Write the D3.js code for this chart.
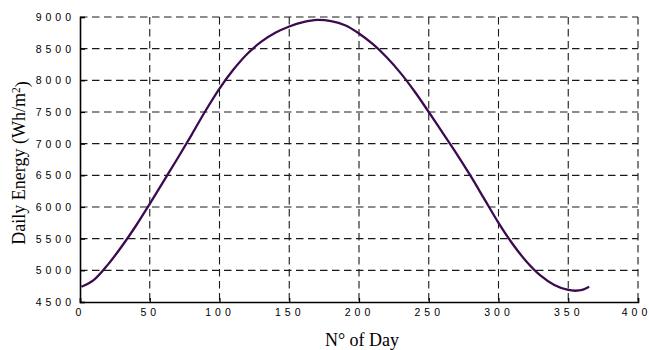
<!DOCTYPE html>
<html>
<head>
<meta charset="utf-8">
<script src="https://cdn.jsdelivr.net/npm/d3@7"></script>
<style>
  html, body { margin: 0; padding: 0; background: #fff; }
  svg { display: block; }
  .tick-label { font-family: "Liberation Sans", Arial, sans-serif; font-size: 10.5px; fill: #000; }
  .axis-title { font-family: "Liberation Serif", "Times New Roman", serif; font-size: 18px; fill: #000; }
</style>
</head>
<body>
<svg id="chart" width="649" height="350"></svg>
<script>
// Day of year and daily solar energy on a horizontal surface (Wh/m²)
const days = [1, 10, 20, 30, 40, 50, 60, 70, 80, 90, 100, 110, 120, 130, 140, 150, 160, 170,
              180, 190, 200, 210, 220, 230, 240, 250, 260, 270, 280, 290, 300, 310, 320, 330,
              340, 350, 355, 360, 365];
const energy = [4740, 4850, 5090, 5380, 5700, 6050, 6410, 6770, 7140, 7520, 7870, 8170, 8420, 8610, 8750, 8850, 8920, 8955,
                8935, 8870, 8740, 8570, 8360, 8110, 7820, 7500, 7170, 6840, 6490, 6120, 5750, 5420, 5140, 4920,
                4770, 4690, 4678, 4690, 4740];

const xTicks = [0, 50, 100, 150, 200, 250, 300, 350, 400];
const yTicks = [4500, 5000, 5500, 6000, 6500, 7000, 7500, 8000, 8500, 9000];

const xTitle = "N° of Day";

const svg = d3.select("#chart");
const plotLeft = 80, plotRight = 638, plotTop = 17, plotBottom = 302;

const x = d3.scaleLinear().domain([0, 400]).range([plotLeft, plotRight]);
const y = d3.scaleLinear().domain([4500, 9000]).range([plotBottom, plotTop]);

// spaced-out digits: a per-glyph dx list (no trailing gap after the last digit)
const gap = 4;
const spaced = (label, lead) => [lead].concat(d3.range(label.length - 1).map(() => gap)).join(" ");

// dashed grid
const grid = svg.append("g").attr("stroke", "#1a1a1a").attr("stroke-width", 1.1)
  .attr("stroke-dasharray", "7.5,4.5").attr("fill", "none");
grid.selectAll("line.v").data(xTicks.filter(d => d > 0)).join("line")
  .attr("class", "v")
  .attr("x1", d => x(d)).attr("x2", d => x(d))
  .attr("y1", plotTop).attr("y2", plotBottom);
grid.selectAll("line.h").data(yTicks.filter(d => d > 4500)).join("line")
  .attr("class", "h")
  .attr("x1", plotLeft).attr("x2", plotRight)
  .attr("y1", d => y(d)).attr("y2", d => y(d));

// axes with inward ticks
const yAxis = d3.axisLeft(y).tickValues(yTicks).tickSize(-5).tickPadding(9).tickFormat(d3.format("d"));
const xAxis = d3.axisBottom(x).tickValues(xTicks).tickSize(-4).tickPadding(9).tickFormat(d3.format("d"));

const gy = svg.append("g").attr("transform", `translate(${plotLeft},0)`).call(yAxis);
const gx = svg.append("g").attr("transform", `translate(0,${plotBottom})`).call(xAxis);

[gx, gy].forEach(g => {
  g.attr("font-size", null).attr("font-family", null);
  g.select(".domain").attr("stroke", "#000").attr("stroke-width", 1.6);
  g.selectAll(".tick line").attr("stroke", "#000").attr("stroke-width", 1.2);
  g.selectAll(".tick text").attr("class", "tick-label");
});
gy.selectAll(".tick text").attr("dx", d => spaced(String(d), 0));
gx.selectAll(".tick text").attr("dy", "0.5em")
  .attr("dx", d => spaced(String(d), d === xTicks[xTicks.length - 1] ? -4 : -2));

// curve
const line = d3.line()
  .x((d, i) => x(days[i]))
  .y(d => y(d))
  .curve(d3.curveCatmullRom.alpha(0.5));
svg.append("path")
  .attr("d", line(energy))
  .attr("fill", "none")
  .attr("stroke", "#3b0b4f")
  .attr("stroke-width", 2.3)
  .attr("stroke-linejoin", "round");

// axis titles
svg.append("text").attr("class", "axis-title")
  .attr("x", 362).attr("y", 346).attr("text-anchor", "middle")
  .text(xTitle);

const yt = svg.append("text").attr("class", "axis-title")
  .attr("transform", `translate(25,163) rotate(-90)`)
  .attr("text-anchor", "middle");
yt.append("tspan").text("Daily Energy (Wh/m");
yt.append("tspan").attr("dy", "-0.45em").attr("font-size", "11.5px").text("2");
yt.append("tspan").attr("dy", "0.45em").text(")");
</script>
</body>
</html>
